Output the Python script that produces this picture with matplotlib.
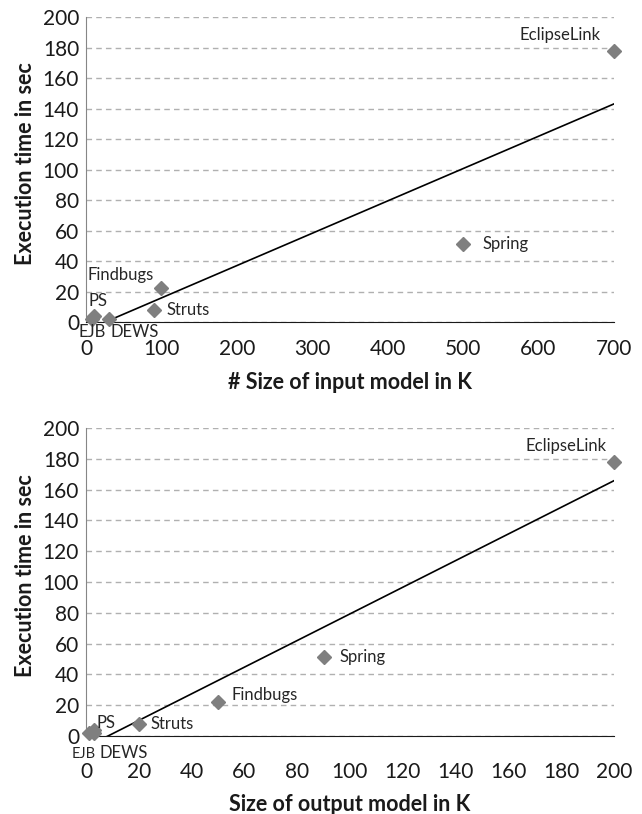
import numpy as np
import matplotlib.pyplot as plt

plt.rcParams['font.family'] = ['Lato', 'DejaVu Sans']

# project names and execution times (sec)
names = ['EJB', 'PS', 'DEWS', 'Struts', 'Findbugs', 'Spring', 'EclipseLink']
exec_time = [2, 4, 2, 8, 22, 51, 178]

# size of input model (K) and size of output model (K)
input_size = [8, 10, 30, 90, 100, 500, 700]
output_size = [1, 3, 3, 20, 50, 90, 200]

# label placement per chart: (dx px, dy px, ha, fontsize)
top_offsets = {
    'EJB': (0, -13, 'center', 12), 'PS': (4, 15, 'center', 12),
    'DEWS': (26, -13, 'center', 12), 'Struts': (13, 0, 'left', 12),
    'Findbugs': (-41, 13, 'center', 12), 'Spring': (20, 0, 'left', 12),
    'EclipseLink': (-54, 16, 'center', 12),
}
bot_offsets = {
    'EJB': (-5, -21, 'center', 10.5), 'PS': (12, 7, 'center', 12),
    'DEWS': (30, -20, 'center', 12), 'Struts': (12, 0, 'left', 12),
    'Findbugs': (14, 7, 'left', 12), 'Spring': (16, 0, 'left', 12),
    'EclipseLink': (-48, 16, 'center', 12),
}

fig = plt.figure(figsize=(6.42, 8.14), dpi=100)
ax1 = fig.add_axes([0.134, 0.6044, 0.822, 0.3747])
ax2 = fig.add_axes([0.134, 0.0958, 0.822, 0.3784])


def draw(ax, xs, xmax, xstep, offsets, xlabel, xpad, xlab_y):
    ax.set_xlim(0, xmax)
    ax.set_ylim(0, 200)
    ax.set_xticks(np.arange(0, xmax + 1, xstep))
    ax.set_yticks(np.arange(0, 201, 20))
    ax.yaxis.grid(True, color='#b0b0b0', linestyle=(0, (4, 3)), linewidth=1)
    ax.set_axisbelow(True)
    for s in ['top', 'right']:
        ax.spines[s].set_visible(False)
    ax.spines['left'].set_color('#868686')
    ax.spines['bottom'].set_color('#1a1a1a')
    ax.tick_params(axis='both', length=0, labelsize=15, colors='#1a1a1a')
    ax.tick_params(axis='x', pad=xpad)
    ax.tick_params(axis='y', pad=5)

    # linear trend line
    k, b = np.polyfit(xs, exec_time, 1)
    xx = np.array([0, xmax])
    ax.plot(xx, k * xx + b, color='black', linewidth=1.2)

    ax.plot(xs, exec_time, linestyle='none', marker='D', markersize=6.8,
            color='#7f7f7f', clip_on=False, zorder=3)
    for n, x, y in zip(names, xs, exec_time):
        dx, dy, ha, fs = offsets[n]
        ax.annotate(n, (x, y), xytext=(dx, dy), textcoords='offset pixels',
                    ha=ha, va='center', fontsize=fs, color='#262626')

    ax.set_xlabel(xlabel, fontsize=15.5, fontweight='bold', color='#1a1a1a')
    ax.xaxis.label.set_va('center')
    ax.xaxis.set_label_coords(0.5, xlab_y)
    ax.set_ylabel('Execution time in sec', fontsize=15.5, fontweight='bold', color='#1a1a1a')
    ax.yaxis.label.set_va('center')
    ax.yaxis.set_label_coords(-0.1155, 0.52)


draw(ax1, input_size, 700, 100, top_offsets, '# Size of input model in K', 12, -60 / 305)
draw(ax2, output_size, 200, 20, bot_offsets, 'Size of output model in K', 19, -68 / 308)

fig.savefig('out.png', dpi=100)
